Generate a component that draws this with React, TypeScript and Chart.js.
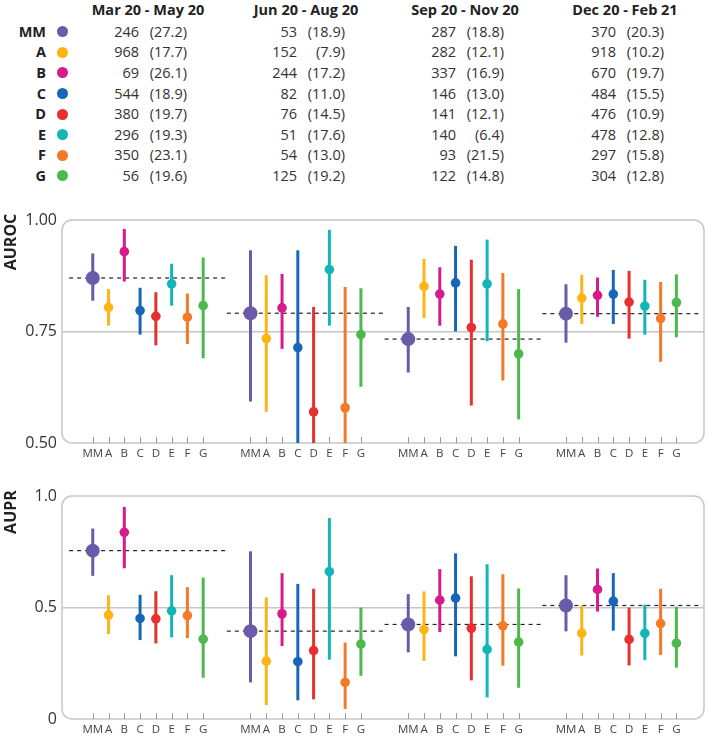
import React, { useEffect, useRef } from 'react';
import { Chart, registerables } from 'chart.js';
Chart.register(...registerables);

const FONT = '"Open Sans", sans-serif';

const models = ['MM', 'A', 'B', 'C', 'D', 'E', 'F', 'G'];
const colors = ['#6A5BAA', '#FDB515', '#D81B8C', '#1667B7', '#E8302E', '#13B6B6', '#F47A28', '#4DB84B'];
const periods = ['Mar 20 - May 20', 'Jun 20 - Aug 20', 'Sep 20 - Nov 20', 'Dec 20 - Feb 21'];

// Table: counts and percentages per period, in model order
const countsP1 = [246, 968, 69, 544, 380, 296, 350, 56];
const pctP1 = ['27.2', '17.7', '26.1', '18.9', '19.7', '19.3', '23.1', '19.6'];
const countsP2 = [53, 152, 244, 82, 76, 51, 54, 125];
const pctP2 = ['18.9', '7.9', '17.2', '11.0', '14.5', '17.6', '13.0', '19.2'];
const countsP3 = [287, 282, 337, 146, 141, 140, 93, 122];
const pctP3 = ['18.8', '12.1', '16.9', '13.0', '12.1', '6.4', '21.5', '14.8'];
const countsP4 = [370, 918, 670, 484, 476, 478, 297, 304];
const pctP4 = ['20.3', '10.2', '19.7', '15.5', '10.9', '12.8', '15.8', '12.8'];

// AUROC estimates and 95% CI per period
const aurocEst = [
  [0.870, 0.804, 0.929, 0.797, 0.784, 0.857, 0.782, 0.808],
  [0.791, 0.734, 0.803, 0.714, 0.570, 0.889, 0.579, 0.743],
  [0.733, 0.851, 0.834, 0.859, 0.759, 0.857, 0.767, 0.700],
  [0.790, 0.825, 0.831, 0.834, 0.816, 0.807, 0.779, 0.815],
];
const aurocLo = [
  [0.819, 0.763, 0.862, 0.743, 0.719, 0.808, 0.722, 0.690],
  [0.593, 0.570, 0.711, 0.450, 0.450, 0.763, 0.450, 0.626],
  [0.658, 0.780, 0.763, 0.750, 0.584, 0.728, 0.640, 0.553],
  [0.725, 0.767, 0.783, 0.767, 0.734, 0.743, 0.682, 0.737],
];
const aurocHi = [
  [0.925, 0.845, 0.980, 0.848, 0.838, 0.902, 0.835, 0.916],
  [0.932, 0.876, 0.879, 0.932, 0.805, 0.978, 0.850, 0.847],
  [0.805, 0.913, 0.894, 0.942, 0.911, 0.956, 0.881, 0.845],
  [0.856, 0.877, 0.871, 0.888, 0.886, 0.866, 0.861, 0.878],
];

// AUPR estimates and 95% CI per period
const auprEst = [
  [0.755, 0.466, 0.837, 0.451, 0.449, 0.485, 0.464, 0.358],
  [0.394, 0.260, 0.472, 0.257, 0.307, 0.661, 0.164, 0.336],
  [0.424, 0.401, 0.533, 0.542, 0.407, 0.312, 0.418, 0.345],
  [0.509, 0.385, 0.581, 0.528, 0.357, 0.384, 0.428, 0.340],
];
const auprLo = [
  [0.642, 0.381, 0.676, 0.354, 0.339, 0.366, 0.363, 0.185],
  [0.164, 0.063, 0.327, 0.084, 0.088, 0.266, 0.045, 0.194],
  [0.299, 0.261, 0.390, 0.281, 0.173, 0.097, 0.239, 0.140],
  [0.393, 0.285, 0.482, 0.396, 0.240, 0.264, 0.287, 0.230],
];
const auprHi = [
  [0.854, 0.555, 0.951, 0.557, 0.573, 0.645, 0.591, 0.634],
  [0.752, 0.545, 0.654, 0.606, 0.584, 0.901, 0.343, 0.500],
  [0.560, 0.572, 0.672, 0.743, 0.640, 0.694, 0.649, 0.585],
  [0.645, 0.509, 0.675, 0.654, 0.500, 0.513, 0.584, 0.504],
];

const aurocTicks = [0.5, 0.75, 1.0];
const aurocTickLabels = ['0.50', '0.75', '1.00'];
const auprTicks = [0, 0.5, 1.0];
const auprTickLabels = ['0', '0.5', '1.0'];

const GROUP = 10;
const groupCenters = [148, 306, 465, 625];
const counts = [countsP1, countsP2, countsP3, countsP4];
const pcts = [pctP1, pctP2, pctP3, pctP4];

const boxPlugin = {
  id: 'roundBox',
  beforeDatasetsDraw(chart: any) {
    const { ctx, chartArea: a } = chart;
    ctx.save();
    ctx.strokeStyle = '#c6c6c6';
    ctx.lineWidth = 1.5;
    ctx.beginPath();
    ctx.roundRect(a.left, a.top, a.right - a.left, a.bottom - a.top, 10);
    ctx.stroke();
    const xs = chart.scales.x;
    ctx.strokeStyle = '#9a9a9a';
    ctx.lineWidth = 1;
    xs.ticks.forEach((t: any) => {
      const px = Math.round(xs.getPixelForValue(t.value)) + 0.5;
      ctx.beginPath();
      ctx.moveTo(px, a.bottom);
      ctx.lineTo(px, a.bottom - 6);
      ctx.stroke();
    });
    ctx.restore();
  },
};

type PanelProps = {
  top: number; height: number; padTop: number; xAxisH: number;
  est: number[][]; lo: number[][]; hi: number[][];
  yMin: number; yMax: number; yTicks: number[]; yLabels: string[]; refLine: number;
};

function Panel(p: PanelProps) {
  const ref = useRef<HTMLCanvasElement>(null);
  useEffect(() => {
    const datasets: any[] = [];
    periods.forEach((_, g) => {
      datasets.push({
        data: [{ x: g * GROUP - 1.5, y: p.est[g][0] }, { x: g * GROUP + 8.4, y: p.est[g][0] }],
        showLine: true, borderColor: '#222', borderWidth: 1.2, borderDash: [4, 4],
        pointRadius: 0, order: 3,
      });
    });
    models.forEach((_, i) => {
      periods.forEach((_, g) => {
        datasets.push({
          data: [{ x: g * GROUP + i, y: p.lo[g][i] }, { x: g * GROUP + i, y: p.hi[g][i] }],
          showLine: true, borderColor: colors[i], borderWidth: 3, borderCapStyle: 'butt',
          pointRadius: 0, order: 2,
        });
      });
      datasets.push({
        data: periods.map((_, g) => ({ x: g * GROUP + i, y: p.est[g][i] })),
        showLine: false, pointRadius: i === 0 ? 7 : 4.8, pointBackgroundColor: colors[i],
        pointBorderWidth: 0, borderWidth: 0, order: 1,
      });
    });
    const xTickVals: number[] = [];
    periods.forEach((_, g) => models.forEach((_, i) => xTickVals.push(g * GROUP + i)));

    const chart = new Chart(ref.current!, {
      type: 'scatter',
      data: { datasets },
      plugins: [boxPlugin],
      options: {
        animation: false,
        responsive: false,
        devicePixelRatio: 1,
        layout: { padding: { top: p.padTop, right: 3, left: 0, bottom: 0 } },
        plugins: { legend: { display: false }, tooltip: { enabled: false } },
        scales: {
          x: {
            type: 'linear', min: -1.95, max: 38.75,
            afterBuildTicks: (s: any) => { s.ticks = xTickVals.map((v) => ({ value: v })); },
            afterFit: (s: any) => { s.height = p.xAxisH; },
            grid: { display: false, drawTicks: false },
            border: { display: false },
            ticks: {
              autoSkip: false, maxRotation: 0, minRotation: 0, padding: 4,
              color: '#444', font: { family: FONT, size: 11.5 },
              callback: (v: any) => models[Math.round(Number(v)) % GROUP] ?? '',
            },
          },
          y: {
            type: 'linear', min: p.yMin, max: p.yMax,
            afterBuildTicks: (s: any) => { s.ticks = p.yTicks.map((v) => ({ value: v })); },
            afterFit: (s: any) => { s.width = 62; },
            grid: {
              drawTicks: false, lineWidth: 1.5,
              color: (c: any) => (c.tick && Math.abs(c.tick.value - p.refLine) < 1e-9 ? '#c6c6c6' : 'rgba(0,0,0,0)'),
            },
            border: { display: false },
            ticks: {
              padding: 5, color: '#333', font: { family: FONT, size: 16 },
              callback: (v: any) => {
                const k = p.yTicks.findIndex((t) => Math.abs(t - Number(v)) < 1e-9);
                return k >= 0 ? p.yLabels[k] : '';
              },
            },
          },
        },
      } as any,
    });
    return () => chart.destroy();
  }, []);
  return (
    <canvas ref={ref} width={711} height={p.height}
      style={{ position: 'absolute', left: 0, top: p.top, width: 711, height: p.height, display: 'block' }} />
  );
}

export default function App() {
  const rowY = (r: number) => 31.7 + r * 20.6;
  const txt: React.CSSProperties = { position: 'absolute', lineHeight: '20px', whiteSpace: 'nowrap', fontFamily: FONT };
  return (
    <div style={{ position: 'fixed', left: 0, top: 0, width: 711, height: 737, background: '#fff', overflow: 'hidden' }}>
      {periods.map((pName, g) => (
        <div key={'h' + g} style={{ ...txt, left: groupCenters[g] - 90, width: 180, top: 0, textAlign: 'center', fontWeight: 700, fontSize: 14.5, color: '#222' }}>{pName}</div>
      ))}
      {models.map((m, r) => (
        <React.Fragment key={'r' + r}>
          <div style={{ ...txt, left: 0, width: 46, top: rowY(r) - 10, textAlign: 'right', fontWeight: 700, fontSize: 14.5, color: '#222' }}>{m}</div>
          <div style={{ position: 'absolute', left: 56.5, top: rowY(r) - 5.5, width: 11, height: 11, borderRadius: '50%', background: colors[r] }} />
          {periods.map((_, g) => (
            <React.Fragment key={'c' + g}>
              <div style={{ ...txt, left: groupCenters[g] - 69, width: 60, top: rowY(r) - 10, textAlign: 'right', fontSize: 14.5, color: '#333' }}>{counts[g][r]}</div>
              <div style={{ ...txt, left: groupCenters[g] - 21, width: 60, top: rowY(r) - 10, textAlign: 'right', fontSize: 14.5, color: '#333' }}>({pcts[g][r]})</div>
            </React.Fragment>
          ))}
        </React.Fragment>
      ))}
      <Panel top={195} height={275} padTop={25} xAxisH={27} est={aurocEst} lo={aurocLo} hi={aurocHi}
        yMin={0.5} yMax={1.0} yTicks={aurocTicks} yLabels={aurocTickLabels} refLine={0.75} />
      <Panel top={475} height={262} padTop={21} xAxisH={18} est={auprEst} lo={auprLo} hi={auprHi}
        yMin={0} yMax={1.0} yTicks={auprTicks} yLabels={auprTickLabels} refLine={0.5} />
      <div style={{ ...txt, left: 10 - 40, width: 80, top: 242 - 10, textAlign: 'center', fontWeight: 700, fontSize: 16, color: '#222', transform: 'rotate(-90deg)' }}>AUROC</div>
      <div style={{ ...txt, left: 10 - 40, width: 80, top: 512 - 10, textAlign: 'center', fontWeight: 700, fontSize: 16, color: '#222', transform: 'rotate(-90deg)' }}>AUPR</div>
    </div>
  );
}
